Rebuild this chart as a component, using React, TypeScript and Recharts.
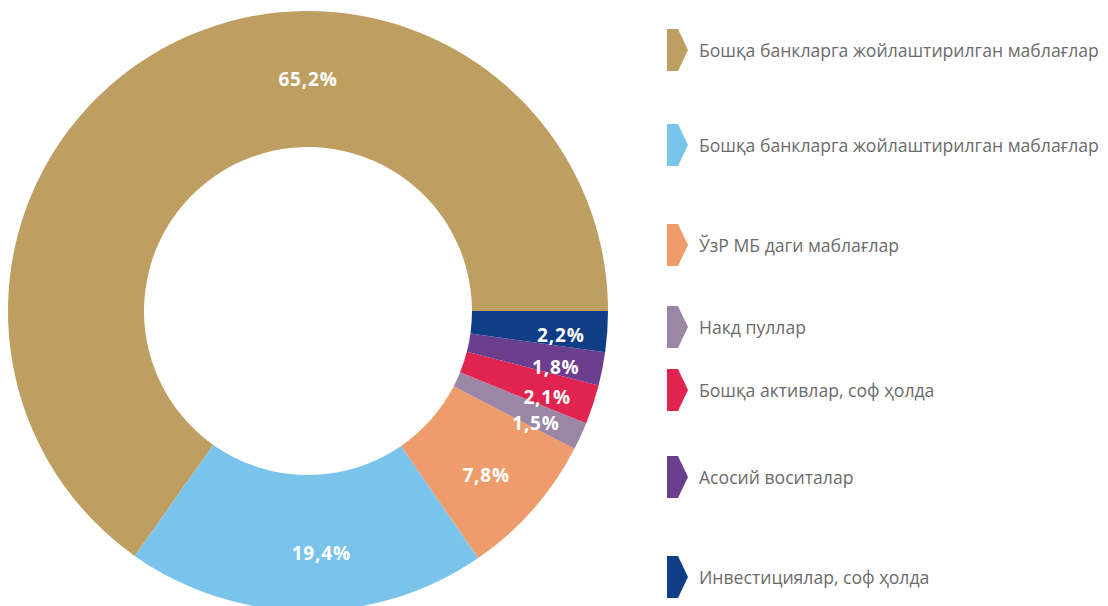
import React from "react";
import { PieChart, Pie, Cell } from "recharts";

const categories = [
  "Бошқа банкларга жойлаштирилган маблағлар",
  "Бошқа банкларга жойлаштирилган маблағлар",
  "ЎзР МБ даги маблағлар",
  "Накд пуллар",
  "Бошқа активлар, соф ҳолда",
  "Асосий воситалар",
  "Инвестициялар, соф ҳолда",
];
const values = [65.2, 19.4, 7.8, 1.5, 2.1, 1.8, 2.2];
const valueLabels = ["65,2%", "19,4%", "7,8%", "1,5%", "2,1%", "1,8%", "2,2%"];
const colors = ["#BE9E61", "#7AC4EC", "#EE9C6B", "#9C86A6", "#E0234F", "#6C3F8E", "#0F3D86"];

// layout-only: vertical centers of the legend rows (px, relative to chart top)
const legendRowY = [42, 137, 237, 319, 382, 469, 569];

const data = categories.map((name, i) => ({ name, value: values[i], label: valueLabels[i] }));

const RAD = Math.PI / 180;

const renderLabel = (props: any) => {
  const { cx, cy, midAngle, index } = props;
  const big = values[index] > 5;
  let angle = midAngle;
  let r = 242;
  if (index === 0) {
    angle = 90;
    r = 232;
  } else if (index === 1) {
    angle = midAngle + 3.5;
  } else if (!big) {
    angle = midAngle - 1.5;
    r = 254;
  } else {
    r = 242;
    angle = midAngle - 1.2;
  }
  const x = cx + r * Math.cos(-angle * RAD);
  const y = cy + r * Math.sin(-angle * RAD);
  return (
    <text
      x={x}
      y={y}
      fill="#fff"
      textAnchor="middle"
      dominantBaseline="central"
      fontFamily="'Open Sans', sans-serif"
      fontWeight={700}
      fontSize={19}
      letterSpacing={0.8}
    >
      {valueLabels[index]}
    </text>
  );
};

const Marker = ({ color }: { color: string }) => (
  <svg width={22} height={42} style={{ position: "absolute", left: 0, top: 0 }}>
    <polygon points="0,0 11,0 21,21 11,42 0,42" fill={color} />
  </svg>
);

const LegendBlock = () => (
  <div style={{ position: "absolute", left: 659, top: 0, width: 440, height: 598 }}>
    {categories.map((c, i) => (
      <div key={i} style={{ position: "absolute", left: 0, top: legendRowY[i] - 21, height: 42, width: 440 }}>
        <Marker color={colors[i]} />
        <div
          style={{
            position: "absolute",
            left: 32,
            top: 0,
            lineHeight: "42px",
            fontFamily: "'Open Sans', sans-serif",
            fontSize: 17.6,
            color: "#6b6b6b",
            whiteSpace: "nowrap",
          }}
        >
          {c}
        </div>
      </div>
    ))}
  </div>
);

export default function App() {
  return (
    <div style={{ position: "relative", width: 1100, height: 598 }}>
      <PieChart width={640} height={598} margin={{ top: 0, right: 0, bottom: 0, left: 0 }}>
        <Pie
          data={data}
          dataKey="value"
          nameKey="name"
          cx={300}
          cy={303}
          innerRadius={164}
          outerRadius={300}
          startAngle={0}
          endAngle={360}
          stroke="none"
          label={renderLabel}
          labelLine={false}
          isAnimationActive={false}
        >
          {data.map((d, i) => (
            <Cell key={i} fill={colors[i]} />
          ))}
        </Pie>
      </PieChart>
      <LegendBlock />
    </div>
  );
}
